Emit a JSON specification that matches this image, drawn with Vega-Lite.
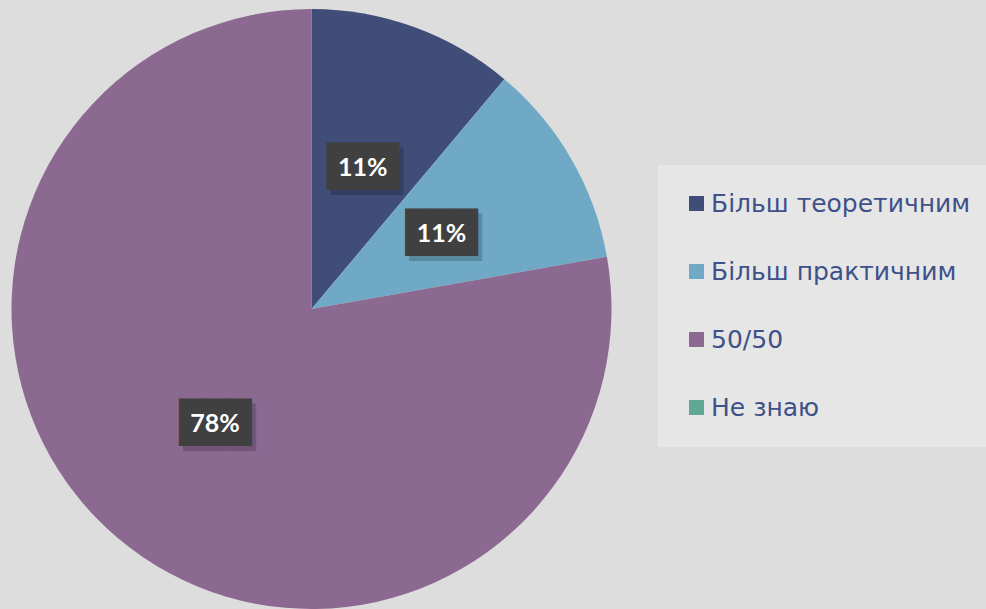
{
  "$schema": "https://vega.github.io/schema/vega-lite/v6.json",
  "width": 623,
  "height": 618,
  "autosize": {"type": "none"},
  "padding": {"left": 0, "top": 0, "right": 363, "bottom": 0},
  "background": "#DDDDDD",
  "view": {"stroke": null},
  "data": {"values": [
    {"cat": "Більш теоретичним", "value": 0.1111, "idx": 1},
    {"cat": "Більш практичним", "value": 0.1111, "idx": 2},
    {"cat": "50/50", "value": 0.7778, "idx": 3},
    {"cat": "Не знаю", "value": 0, "idx": 4}
  ]},
  "encoding": {
    "theta": {"field": "value", "type": "quantitative", "stack": true},
    "order": {"field": "idx", "type": "quantitative"}
  },
  "layer": [
    {
      "mark": {"type": "arc", "outerRadius": 300},
      "encoding": {
        "color": {
          "field": "cat",
          "type": "nominal",
          "sort": null,
          "scale": {
            "domain": ["Більш теоретичним", "Більш практичним", "50/50", "Не знаю"],
            "range": ["#3F4D78", "#6FA9C5", "#8C6991", "#5FA896"]
          },
          "legend": {
            "title": null,
            "orient": "none",
            "legendX": 658,
            "legendY": 165,
            "fillColor": "#E6E6E6",
            "padding": 26,
            "symbolType": "square",
            "symbolSize": 225,
            "symbolStrokeWidth": 0,
            "symbolOpacity": 1,
            "labelFont": "DejaVu Sans",
            "labelFontSize": 25,
            "labelColor": "#3E5189",
            "rowPadding": 42,
            "labelOffset": 2,
            "labelLimit": 500
          }
        }
      }
    },
    {
      "transform": [{"filter": "datum.value > 0"}],
      "mark": {"type": "text", "radius": 150, "text": "███", "font": "DejaVu Sans Mono", "fontSize": 40, "color": "#000000", "opacity": 0.18, "dx": 4, "dy": 5, "baseline": "middle", "align": "center"}
    },
    {
      "transform": [{"filter": "datum.value > 0"}],
      "mark": {"type": "text", "radius": 150, "text": "███", "font": "DejaVu Sans Mono", "fontSize": 40, "color": "#404040", "baseline": "middle", "align": "center"}
    },
    {
      "transform": [{"filter": "datum.value > 0"}],
      "mark": {"type": "text", "radius": 150, "font": "Lato", "fontWeight": "bold", "fontSize": 25, "color": "#FFFFFF", "baseline": "middle", "align": "center"},
      "encoding": {"text": {"field": "value", "type": "quantitative", "format": ".0%"}}
    }
  ]
}
